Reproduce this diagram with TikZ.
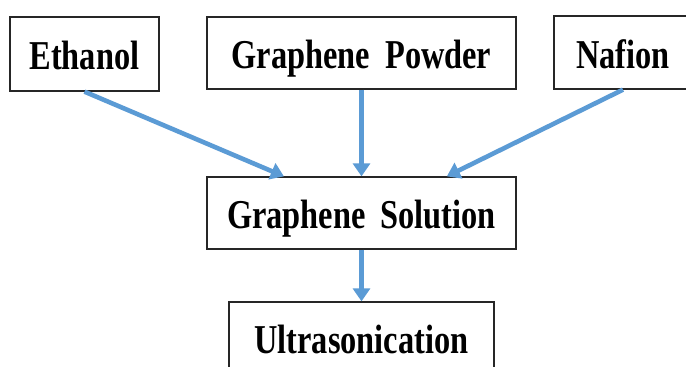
\documentclass[tikz,border=0pt]{standalone}
\usepackage{fontspec}
\setmainfont{Liberation Serif}[FakeStretch=0.79]
\usetikzlibrary{arrows.meta,calc}
\definecolor{arrowblue}{RGB}{91,155,213}
\newcommand{\widespace}{\spaceskip=15pt\relax}
\begin{document}
\begin{tikzpicture}[x=1pt,y=-1pt,
  box/.style={draw=black!85,line width=1.3pt,fill=white,inner sep=0pt,
    text height=31pt,text depth=0pt,
    font=\fontsize{41}{45}\selectfont\bfseries,
    execute at begin node=\widespace},
  flow/.style={draw=arrowblue,line width=4.6pt,
    -{Triangle[width=17pt,length=13pt]}}]
\useasboundingbox (0,0) rectangle (686,367);
\clip (0,0) rectangle (686,367);
\fill[white] (0,0) rectangle (686,367);
\node[box,minimum width=149pt,minimum height=74pt] (ethanol) at (84.5,54) {Ethanol};
\node[box,minimum width=309pt,minimum height=72pt] (powder) at (361.5,53) {Graphene Powder};
\node[box,minimum width=138pt,minimum height=73pt] (nafion) at (623,52.5) {Nafion};
\node[box,minimum width=309pt,minimum height=72pt] (solution) at (361.5,213) {Graphene Solution};
\node[box,minimum width=265pt,minimum height=72pt] (ultra) at (361.5,338) {Ultrasonication};
\draw[flow] (ethanol.south) -- ($(solution.north west)!0.25!(solution.north east)$);
\draw[flow] (powder.south) -- (solution.north);
\draw[flow] (nafion.south) -- ($(solution.north west)!0.775!(solution.north east)$);
\draw[flow] (solution.south) -- (ultra.north);
\end{tikzpicture}
\end{document}
